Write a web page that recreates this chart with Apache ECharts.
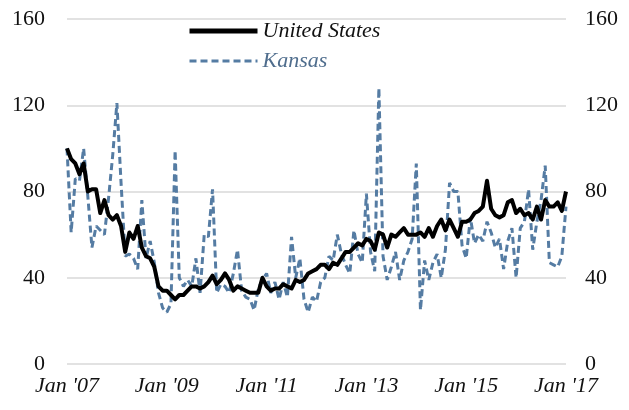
<!DOCTYPE html>
<html>
<head>
<meta charset="utf-8">
<style>
  html, body { margin: 0; padding: 0; background: #ffffff; }
  #chart { width: 629px; height: 410px; }
</style>
<script src="https://cdn.jsdelivr.net/npm/echarts@6/dist/echarts.min.js"></script>
</head>
<body>
<div id="chart"></div>
<script>
// Monthly index, Jan 2007 .. Jan 2017 (Jan 2007 = 100)
const monthNames = ['Jan', 'Feb', 'Mar', 'Apr', 'May', 'Jun', 'Jul', 'Aug', 'Sep', 'Oct', 'Nov', 'Dec'];
const startYear = 2007;
const monthCount = 121;

// Axis tick labels shown every two years
const tickLabels = ["Jan '07", "Jan '09", "Jan '11", "Jan '13", "Jan '15", "Jan '17"];
const yTicks = [0, 40, 80, 120, 160];

const unitedStates = [
  100, 95, 93, 88, 93, 80, 81, 81, 70, 76, 69, 67, 69, 64, 52, 61, 58, 64, 54, 50, 49, 45, 36, 34, 34,
  32, 30, 32, 32, 34, 36, 36, 35, 36, 38, 41, 37, 39, 42, 39, 34, 36, 35, 34, 33, 33, 33, 40, 36,
  34, 35, 35, 37, 36, 35, 39, 38, 39, 42, 43, 44, 46, 46, 44, 47, 46, 49, 52, 52, 54, 56, 55, 58,
  57, 53, 61, 60, 54, 60, 59, 61, 63, 60, 60, 60, 61, 59, 63, 59, 64, 67, 62, 67, 63, 59, 66,
  66, 67, 70, 71, 73, 85, 72, 69, 68, 69, 75, 76, 70, 72, 69, 70, 67, 73, 67, 76, 73, 73, 75, 71, 80
];

const kansas = [
  100, 61, 86, 85, 100, 78, 54, 64, 62, 60, 77, 97, 121, 84, 50, 51, 49, 44, 76, 49, 57, 47, 33, 26, 24,
  28, 99, 40, 36, 39, 36, 49, 33, 60, 59, 81, 33, 37, 36, 33, 42, 53, 34, 31, 30, 25, 35, 39, 42,
  33, 38, 30, 38, 31, 59, 40, 49, 30, 24, 31, 29, 38, 40, 50, 48, 60, 51, 46, 42, 62, 51, 47, 79,
  52, 43, 128, 50, 39, 45, 52, 39, 48, 52, 58, 93, 25, 48, 39, 47, 51, 40, 53, 84, 80, 80,
  55, 49, 68, 56, 60, 57, 66, 61, 54, 58, 44, 57, 63, 40, 63, 66, 81, 53, 66, 76, 92, 47, 46, 45, 50, 73
];

// Month categories: "Jan '07", "Feb '07", ...
const categories = [];
for (let i = 0; i < monthCount; i++) {
  const y = startYear + Math.floor(i / 12);
  categories.push(monthNames[i % 12] + " '" + String(y % 100).padStart(2, '0'));
}

const serif = "'Liberation Serif', 'DejaVu Serif', serif";
const usColor = '#000000';
const ksColor = '#557ca3';

const chart = echarts.init(document.getElementById('chart'), null, { renderer: 'canvas' });

const yAxisBase = {
  type: 'value',
  min: yTicks[0],
  max: yTicks[yTicks.length - 1],
  interval: yTicks[1] - yTicks[0],
  axisLine: { show: false },
  axisTick: { show: false }
};

chart.setOption({
  animation: false,
  backgroundColor: '#ffffff',
  grid: { left: 67, right: 63, top: 19, bottom: 46, containLabel: false },
  legend: {
    orient: 'vertical',
    left: 182,
    top: 15,
    itemWidth: 68,
    itemHeight: 22,
    itemGap: 8,
    itemStyle: { opacity: 0 },
    textStyle: { fontFamily: serif, fontSize: 22, fontStyle: 'italic' },
    data: [
      { name: 'United States', textStyle: { color: '#111111' }, lineStyle: { width: 5 } },
      { name: 'Kansas', textStyle: { color: '#4f6d8d' }, lineStyle: { width: 3 } }
    ]
  },
  xAxis: {
    type: 'category',
    data: categories,
    boundaryGap: false,
    axisLine: { show: false },
    axisTick: { show: false },
    splitLine: { show: false },
    axisLabel: {
      interval: (index) => index % 24 === 0,
      formatter: (value) => (tickLabels.includes(value) ? value : ''),
      showMinLabel: true,
      showMaxLabel: true,
      margin: 11,
      color: '#111111',
      fontFamily: serif,
      fontSize: 22,
      fontStyle: 'italic'
    }
  },
  yAxis: [
    Object.assign({}, yAxisBase, {
      position: 'left',
      splitLine: { show: true, lineStyle: { color: '#d9d9d9', width: 1.5 } },
      axisLabel: { margin: 22, color: '#111111', fontFamily: serif, fontSize: 22 }
    }),
    Object.assign({}, yAxisBase, {
      position: 'right',
      splitLine: { show: false },
      axisLabel: { margin: 19, color: '#111111', fontFamily: serif, fontSize: 22 }
    })
  ],
  series: [
    {
      name: 'Kansas',
      type: 'line',
      data: kansas,
      symbol: 'none',
      smooth: false,
      z: 2,
      itemStyle: { color: ksColor },
      lineStyle: { color: ksColor, width: 3, type: [7, 4], cap: 'butt' }
    },
    {
      name: 'United States',
      type: 'line',
      data: unitedStates,
      symbol: 'none',
      smooth: false,
      z: 3,
      itemStyle: { color: usColor },
      lineStyle: { color: usColor, width: 4, join: 'round' }
    }
  ]
});
</script>
</body>
</html>
